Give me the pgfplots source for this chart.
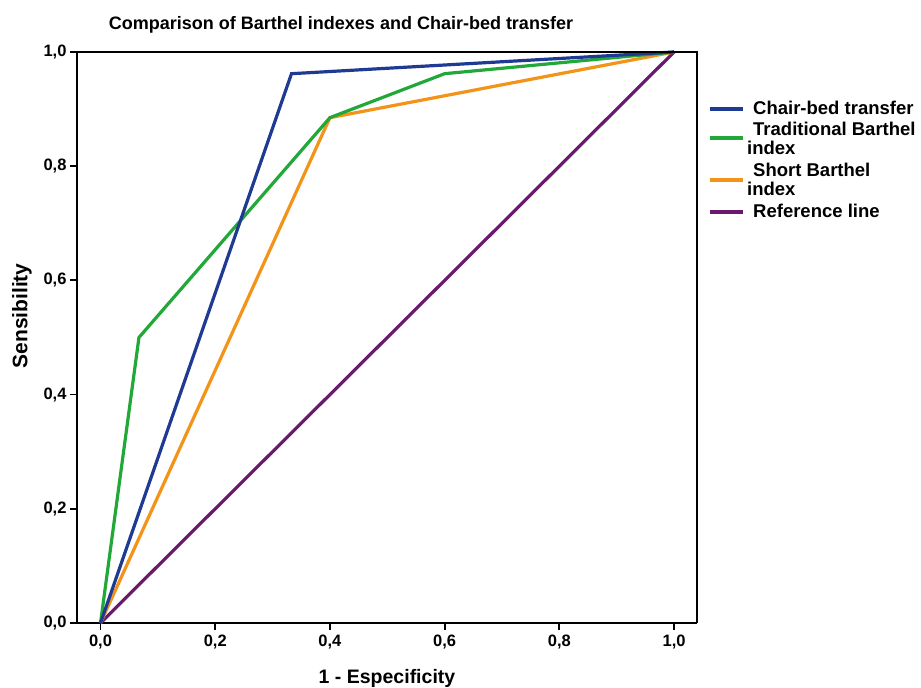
\documentclass[border=0pt]{standalone}
\usepackage{pgfplots}
\pgfplotsset{compat=1.18}
\usepackage{fontspec}
\setmainfont{Liberation Sans}
\definecolor{cblue}{HTML}{1F3A93}
\definecolor{cgreen}{HTML}{22A838}
\definecolor{corange}{HTML}{F39419}
\definecolor{cpurple}{HTML}{6A1A6E}
\begin{document}
\begin{tikzpicture}[x=1pt,y=1pt]
\path[use as bounding box] (0pt,0pt) rectangle (921pt,688pt);
\begin{axis}[
  at={(77pt,65pt)}, anchor=south west,
  scale only axis, width=620pt, height=571pt,
  xmin=-0.041, xmax=1.04, ymin=0, ymax=1,
  axis x line*=bottom, axis y line*=left,
  axis line style={line width=2.6pt},
  tick style={line width=1.8pt, black},
  tick align=outside, major tick length=7pt,
  xtick={0,0.2,0.4,0.6,0.8,1.0},
  ytick={0,0.2,0.4,0.6,0.8,1.0},
  /pgf/number format/.cd, use comma, fixed, fixed zerofill, precision=1, assume math mode=true,
  /pgfplots/.cd,
  ticklabel style={font=\fontsize{16.5}{18}\selectfont\bfseries},
  xticklabel style={yshift=-1pt},
  clip=false,
]
\addplot[cpurple, line width=3.2pt] coordinates {(0,0) (1,1)};
\addplot[corange, line width=3.2pt] coordinates {(0,0) (0.4,0.885) (1,1)};
\addplot[cgreen, line width=3.2pt] coordinates {(0,0) (0.067,0.5) (0.4,0.885) (0.6,0.962) (1,1)};
\addplot[cblue, line width=3.2pt] coordinates {(0,0) (0.333,0.962) (1,1)};
\draw[line width=2.6pt] (axis cs:1.04,0) -- (axis cs:1.04,1) -- (axis cs:-0.041,1);
\end{axis}
\node[font=\fontsize{18}{20}\selectfont\bfseries] at (341pt,663pt) {Comparison of Barthel indexes and Chair-bed transfer};
\node[font=\fontsize{19.5}{21}\selectfont\bfseries] at (387pt,10pt) {1 - Especificity};
\node[font=\fontsize{21}{23}\selectfont\bfseries, rotate=90] at (22pt,372pt) {Sensibility};
\begin{scope}[line width=3.2pt]
\draw[cblue] (710pt,579pt) -- (743pt,579pt);
\draw[cgreen] (710pt,550pt) -- (743pt,550pt);
\draw[corange] (710pt,508pt) -- (743pt,508pt);
\draw[cpurple] (710pt,476pt) -- (743pt,476pt);
\end{scope}
\begin{scope}[every node/.style={font=\fontsize{18.5}{18.5}\selectfont\bfseries, anchor=west, inner sep=0pt}]
\node at (753pt,580pt) {Chair-bed transfer};
\node at (753pt,559pt) {Traditional Barthel};
\node at (747pt,540pt) {index};
\node at (753pt,518pt) {Short Barthel};
\node at (747pt,499pt) {index};
\node at (753pt,477pt) {Reference line};
\end{scope}
\end{tikzpicture}
\end{document}
